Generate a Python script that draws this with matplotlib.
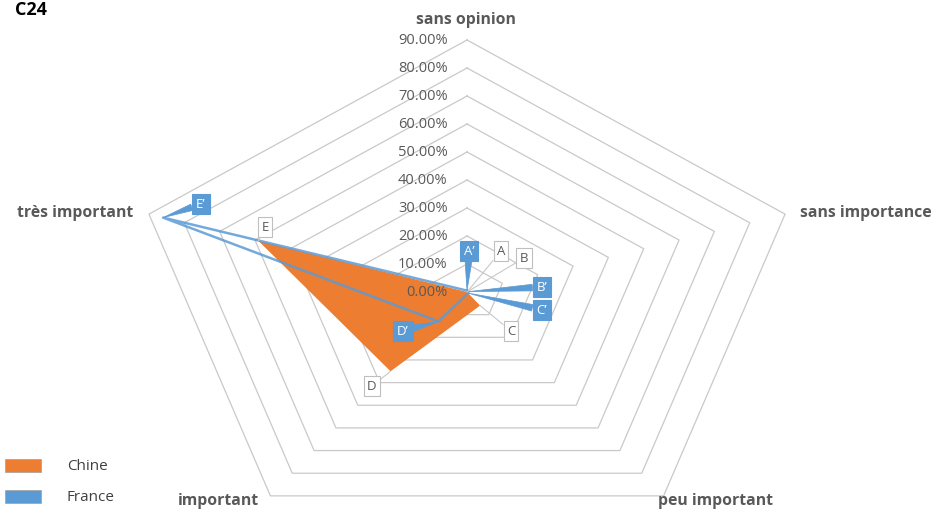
import numpy as np
import matplotlib
matplotlib.use("Agg")
import matplotlib.pyplot as plt

plt.rcParams['font.family'] = ['Open Sans', 'DejaVu Sans']

# categories, clockwise from the top
categories = ["sans opinion", "sans importance", "peu important", "important", "très important"]
chine = [0.0, 0.0, 0.06, 0.35, 0.59]
france = [0.005, 0.005, 0.005, 0.13, 0.86]
chine_labels = ["A", "B", "C", "D", "E"]
france_labels = ["A\u2019", "B\u2019", "C\u2019", "D\u2019", "E\u2019"]
ring_levels = [0.1, 0.2, 0.3, 0.4, 0.5, 0.6, 0.7, 0.8, 0.9]
tick_levels = [0.0, 0.1, 0.2, 0.3, 0.4, 0.5, 0.6, 0.7, 0.8, 0.9]

ORANGE = "#ED7D31"
BLUE = "#5B9BD5"
GRID = "#c9c9c9"
TXT = "#595959"

W, H = 935, 511
fig = plt.figure(figsize=(W / 100, H / 100), dpi=100)
ax = fig.add_axes([0, 0, 1, 1])
ax.set_xlim(-467 / 371.6, (W - 467) / 371.6)
ax.set_ylim(-(H - 292) / 280, 292 / 280)
ax.axis("off")

angles = np.deg2rad(90 - 72 * np.arange(len(categories)))


def xy(vals):
    v = np.asarray(vals)
    return v * np.cos(angles), v * np.sin(angles)


def px(x, y):
    # top-left pixel position -> figure pixels
    return (x, H - y)


# grid rings
for r in ring_levels:
    gx, gy = xy([r] * len(categories))
    ax.plot(np.append(gx, gx[0]), np.append(gy, gy[0]), color=GRID, lw=0.9, zorder=1)

# tick labels
for r in tick_levels:
    ax.text(-0.052, r, f"{r * 100:.2f}%", ha="right", va="center",
            fontsize=10.5, color=TXT, zorder=5)

# category labels
cat_pos = [(466, 20, "center"), (800, 213, "left"), (715, 501, "center"),
           (218, 501, "center"), (133, 213, "right")]
for name, (x, y, ha) in zip(categories, cat_pos):
    ax.annotate(name, xy=px(x, y), xycoords="figure pixels", ha=ha, va="center",
                fontsize=11.3, fontweight="bold", color=TXT)

# Chine filled area
cx, cy = xy(chine)
ax.fill(cx, cy, color=ORANGE, lw=0, zorder=2)

# France line
fx, fy = xy(france)
ax.plot(np.append(fx, fx[0]), np.append(fy, fy[0]), color=BLUE, lw=1.8, alpha=0.85, zorder=3)

# data labels
chine_pos = [(501, 251), (524, 258), (511, 331), (372, 386), (265, 227)]
france_pos = [(469, 251), (542, 287), (542, 310), (403, 331), (201, 204)]
for i in range(len(categories)):
    ax.annotate(chine_labels[i], xy=(cx[i], cy[i]), xytext=px(*chine_pos[i]),
                textcoords="figure pixels", ha="center", va="center",
                fontsize=9.5, color=TXT, zorder=6,
                bbox=dict(boxstyle="square,pad=0.25", fc="white", ec="#bfbfbf", lw=0.8),
                arrowprops=dict(arrowstyle="-", color="#c8c8c8", lw=0.8,
                                shrinkA=0, shrinkB=0))
    ax.annotate(france_labels[i], xy=(fx[i], fy[i]), xytext=px(*france_pos[i]),
                textcoords="figure pixels", ha="center", va="center",
                fontsize=9.5, color="white", zorder=7,
                bbox=dict(boxstyle="square,pad=0.3", fc=BLUE, ec=BLUE, lw=0.8),
                arrowprops=dict(arrowstyle="wedge,tail_width=0.5", fc=BLUE, ec=BLUE,
                                lw=0.5, shrinkA=0, shrinkB=0))

# title
fig.text(15 / W, 1 - 1 / H, "C24", ha="left", va="top", fontsize=13,
         fontweight="bold", color="black")

# legend
for i, (name, col) in enumerate([("Chine", ORANGE), ("France", BLUE)]):
    y0 = 459 + 31 * i
    fig.patches.append(plt.Rectangle((5 / W, 1 - (y0 + 13) / H), 36 / W, 13 / H,
                                     transform=fig.transFigure, fc=col, ec="#a0a0a0",
                                     lw=0.5))
    fig.text(67 / W, 1 - (y0 + 7) / H, name, ha="left", va="center",
             fontsize=11, color="#404040")

fig.savefig("out.png", dpi=100)
